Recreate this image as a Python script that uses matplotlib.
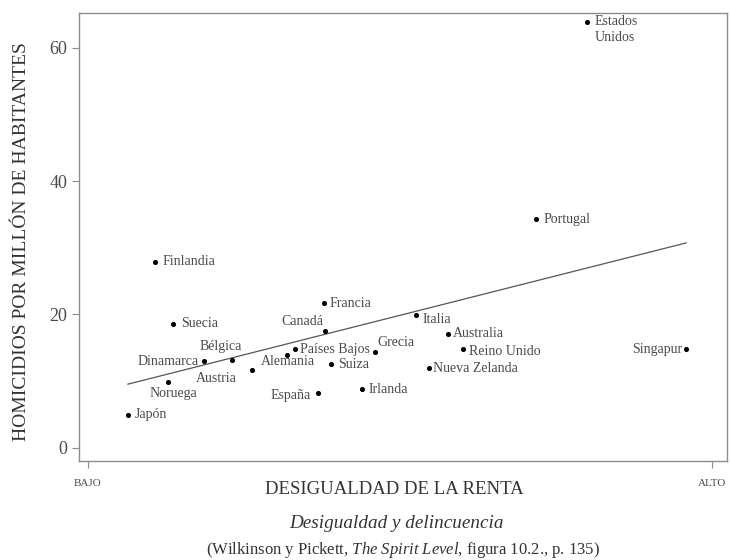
import numpy as np
import matplotlib.pyplot as plt

plt.rcParams['font.family'] = ['Liberation Serif', 'DejaVu Serif']
plt.rcParams['mathtext.fontset'] = 'custom'
plt.rcParams['mathtext.it'] = 'Liberation Serif:italic'
plt.rcParams['mathtext.rm'] = 'Liberation Serif'

# datos (x: desigualdad 0=bajo..100=alto, y: homicidios por millon)
paises = ['Estados\nUnidos', 'Portugal', 'Finlandia', 'Suecia', 'Francia', 'Canadá',
          'Bélgica', 'Dinamarca', 'Países Bajos', 'Alemania', 'Austria', 'Noruega',
          'Japón', 'España', 'Suiza', 'Irlanda', 'Grecia', 'Italia', 'Australia',
          'Reino Unido', 'Nueva Zelanda', 'Singapur']
desigualdad = [79.9, 71.8, 10.8, 13.7, 37.8, 38.0, 23.1, 18.6, 33.2, 31.8, 26.3, 12.9,
               6.4, 36.8, 38.9, 43.9, 46.0, 52.5, 57.6, 60.0, 54.6, 95.8]
homicidios = [63.8, 34.3, 27.9, 18.6, 21.7, 17.5, 13.2, 13.0, 14.8, 13.9, 11.7, 9.9,
              5.0, 8.2, 12.5, 8.8, 14.3, 19.9, 17.1, 14.8, 11.9, 14.8]

# posicion de cada etiqueta respecto a su punto (pixeles)
etiq = {
    'Estados\nUnidos': (8, 7, 'left', 'top'),
    'Portugal': (7, 0, 'left', 'center'),
    'Finlandia': (7, 0, 'left', 'center'),
    'Suecia': (8, 0, 'left', 'center'),
    'Francia': (6, 0, 'left', 'center'),
    'Canadá': (-2, 10, 'right', 'center'),
    'Bélgica': (10, 13, 'right', 'center'),
    'Dinamarca': (-5, 0, 'right', 'center'),
    'Países Bajos': (5, 0, 'left', 'center'),
    'Alemania': (1, -6, 'center', 'center'),
    'Austria': (-15, -9, 'right', 'center'),
    'Noruega': (5, -12, 'center', 'center'),
    'Japón': (7, 0, 'left', 'center'),
    'España': (-7, -2, 'right', 'center'),
    'Suiza': (7, 0, 'left', 'center'),
    'Irlanda': (6, 0, 'left', 'center'),
    'Grecia': (2, 10, 'left', 'center'),
    'Italia': (7, -4, 'left', 'center'),
    'Australia': (5, 0, 'left', 'center'),
    'Reino Unido': (6, -2, 'left', 'center'),
    'Nueva Zelanda': (4, 0, 'left', 'center'),
    'Singapur': (-4, 0, 'right', 'center'),
}

gris = '#8c8c8c'
texto = '#4a4a4a'

fig = plt.figure(figsize=(7.31, 5.6), dpi=100)
ax = fig.add_axes([0.108, 0.177, 0.887, 0.8])

x = np.array(desigualdad)
y = np.array(homicidios)
ax.scatter(x, y, s=7, color='black', zorder=3)

# recta de regresion
m, b = np.polyfit(x, y, 1)
xs = np.array([x.min(), x.max()])
ax.plot(xs, m * xs + b, color='#555555', linewidth=0.9)

for p, xi, yi in zip(paises, x, y):
    dx, dy, ha, va = etiq[p]
    ax.annotate(p, (xi, yi), xytext=(dx, dy), textcoords='offset pixels',
                ha=ha, va=va, fontsize=10, color=texto, linespacing=1.3)

ax.set_xlim(-1.44, 102.4)
ax.set_ylim(-1.95, 65.2)
ax.set_yticks([0, 20, 40, 60])
ax.set_xticks([0, 100])
ax.set_xticklabels(['BAJO', 'ALTO'], fontsize=8, color=texto)
ax.tick_params(axis='y', labelsize=13, labelcolor=texto, color=gris, length=5)
ax.tick_params(axis='x', color=gris, length=5, pad=8)
for s in ax.spines.values():
    s.set_color(gris)
    s.set_linewidth(1.0)

ax.set_xlabel('DESIGUALDAD DE LA RENTA', fontsize=13.5, color='#333333', va='center')
ax.xaxis.set_label_coords(0.487, -0.065)
ax.set_ylabel('HOMICIDIOS POR MILLÓN DE HABITANTES', fontsize=14, color='#333333', va='center')
ax.yaxis.set_label_coords(-0.088, 0.49)

fig.text(0.542, 1 - 524 / 560, 'Desigualdad y delincuencia', ha='center', va='center',
         fontsize=13.8, style='italic', color='#333333')
fig.text(0.551, 1 - 550 / 560,
         '(Wilkinson y Pickett, $\\it{The\\ Spirit\\ Level}$, figura 10.2., p. 135)',
         ha='center', va='center', fontsize=12, color='#333333')

fig.savefig('out.png', dpi=100)
